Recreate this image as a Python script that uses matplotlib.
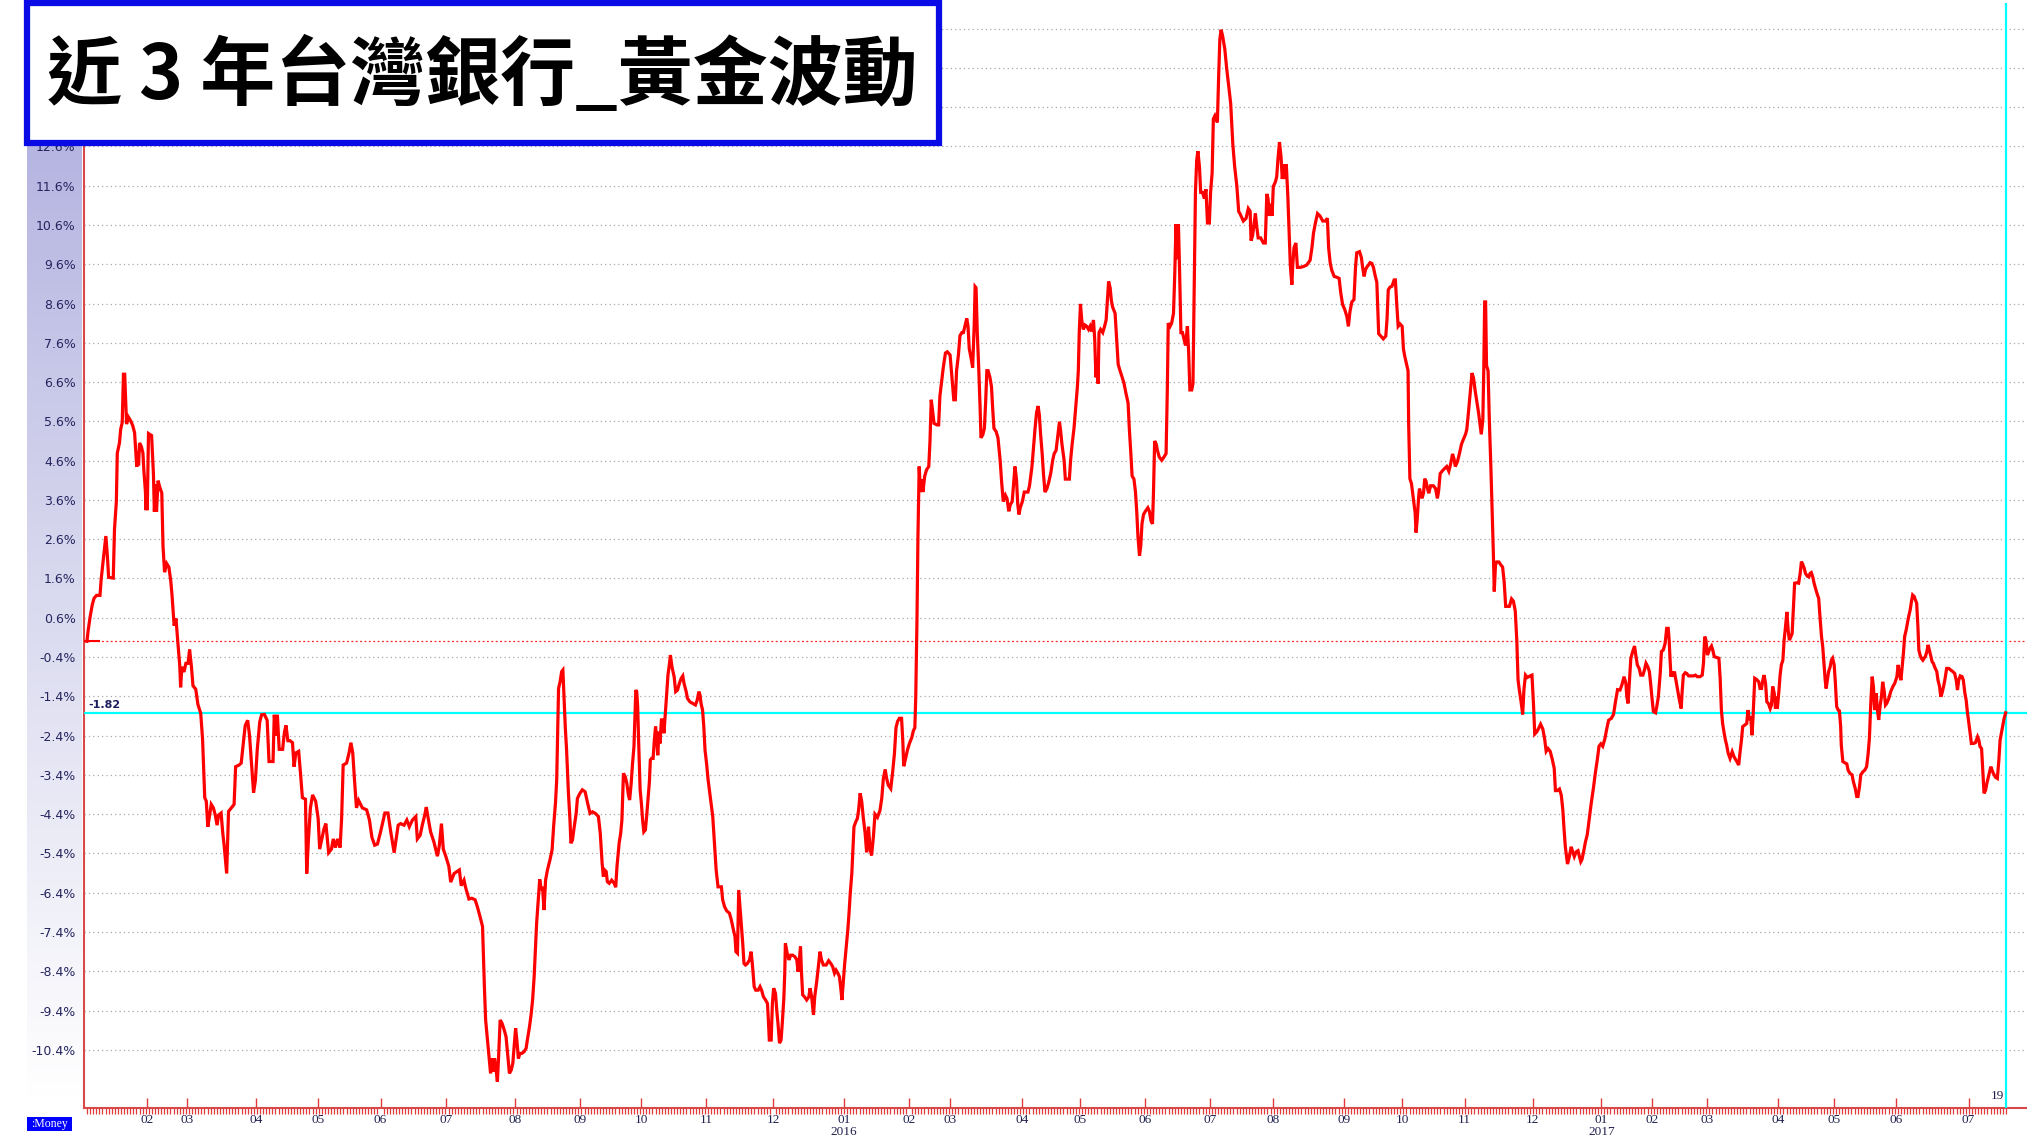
import matplotlib
matplotlib.use('Agg')
import matplotlib.pyplot as plt
import numpy as np
from matplotlib.patches import Rectangle
from matplotlib.colors import LinearSegmentedColormap

plt.rcParams['font.family'] = ['DejaVu Sans']

# ---- data: x = trading-session index from the first quote, y = change in % ----
a_day = [0.0, 0.3, 1.0, 1.7, 2.3, 3.1, 4.2, 4.6, 5.3, 5.7,
         6.1, 6.6, 7.0, 8.5, 8.9, 9.5, 9.8, 10.5, 10.9, 11.4,
         11.8, 12.2, 12.5, 12.8, 13.4, 14.1, 14.8, 15.4, 15.8, 16.1,
         16.4, 16.7, 17.0, 17.6, 18.1, 18.4, 18.9, 19.1, 19.3, 19.5,
         19.9, 20.9, 21.5, 21.8, 22.2, 22.5, 23.0, 23.6, 24.2, 24.6,
         25.1, 25.8, 26.5, 27.1, 27.5, 28.2, 28.8, 29.4, 30.0, 30.3,
         30.7, 31.4, 32.0, 32.7, 33.2, 33.8, 34.3, 35.2, 35.9, 36.8,
         37.4, 38.1, 38.6, 39.1, 39.7, 40.2, 40.9, 41.5, 42.1, 42.6,
         43.4, 43.9, 44.4, 45.2, 45.8, 46.7, 47.6, 48.1, 49.2, 49.9,
         50.6, 51.2, 52.0, 52.6, 53.3, 53.9, 54.5, 55.1, 55.9, 56.5,
         57.4, 58.3, 58.9, 60.2, 60.6, 61.2, 61.6, 62.2, 63.3, 63.9,
         64.4, 65.0, 65.7, 66.5, 67.0, 67.6, 68.5, 69.1, 69.7, 70.7,
         71.1, 71.7, 72.3, 73.0, 74.0, 74.8, 75.3, 76.1, 76.7, 77.3,
         78.2, 79.1, 79.7, 80.4, 81.1, 81.9, 82.4, 82.9, 84.0, 84.8,
         85.4, 86.0, 86.5, 87.2, 87.9, 89.1, 90.5, 91.4, 92.2, 93.1,
         94.0, 95.0, 96.4, 97.4, 98.3, 99.4, 100.7, 101.5, 102.6, 103.5,
         104.3, 105.3, 106.4, 106.9, 107.8, 108.5, 109.3, 109.8, 110.4, 111.2,
         112.3, 113.4, 114.0, 114.7, 115.3, 116.1, 117.1, 117.7, 118.8, 120.5,
         121.1, 122.0, 122.5, 123.6]
a_pct = [0.00, 0.23, 0.62, 0.93, 1.10, 1.17, 1.17, 1.59, 2.11, 2.42,
         2.68, 2.16, 1.63, 1.61, 2.86, 3.56, 4.79, 5.05, 5.40, 5.57,
         6.80, 6.80, 6.19, 5.53, 5.71, 5.62, 5.49, 5.31, 4.83, 4.44,
         4.83, 4.48, 5.05, 4.96, 4.79, 4.35, 3.82, 3.34, 3.91, 3.34,
         5.29, 5.24, 4.26, 3.30, 4.00, 3.30, 4.09, 3.91, 3.78, 2.42,
         1.76, 1.98, 1.89, 1.54, 1.19, 0.40, 0.58, -0.03, -0.60, -1.17,
         -0.65, -0.78, -0.56, -0.56, -0.21, -0.65, -1.13, -1.22, -1.61, -1.83,
         -2.49, -3.98, -4.07, -4.72, -4.42, -4.15, -4.24, -4.42, -4.68, -4.42,
         -4.37, -4.85, -5.21, -5.91, -4.33, -4.24, -4.15, -3.19, -3.15, -3.10,
         -2.58, -2.14, -2.01, -2.40, -3.19, -3.85, -3.54, -2.75, -2.05, -1.87,
         -1.86, -2.01, -3.06, -3.06, -1.87, -2.40, -1.87, -2.75, -2.75, -2.31,
         -2.14, -2.53, -2.53, -2.58, -3.19, -2.84, -2.80, -3.37, -3.98, -4.02,
         -5.91, -4.99, -4.24, -3.91, -4.07, -4.51, -5.29, -4.99, -4.77, -4.64,
         -5.38, -5.29, -5.03, -5.25, -5.03, -5.25, -4.50, -3.15, -3.10, -2.84,
         -2.58, -2.84, -3.45, -4.24, -4.05, -4.24, -4.29, -4.55, -4.99, -5.19,
         -5.16, -4.85, -4.37, -4.37, -4.85, -5.38, -4.68, -4.64, -4.68, -4.55,
         -4.72, -4.55, -4.46, -5.03, -4.94, -4.68, -4.42, -4.22, -4.50, -4.85,
         -5.12, -5.47, -5.21, -4.64, -5.29, -5.47, -5.73, -6.13, -5.91, -5.82,
         -6.22, -6.08, -6.26, -6.56]

b_day = [124.5, 125.6, 126.3, 127.2, 128.0, 128.3, 128.6, 129.0, 129.6, 130.2,
         130.6, 131.2, 131.6, 131.9, 132.4, 132.8, 133.2, 133.7, 134.3, 135.0,
         135.6, 136.1, 136.7, 137.3, 137.8, 138.3, 138.7, 139.1, 139.6, 140.1,
         140.7, 141.4, 142.1, 142.5, 143.2, 143.7, 144.2, 144.7, 145.1, 145.5,
         146.1, 146.5, 147.0, 147.4, 147.9, 148.4, 149.0, 149.8, 150.5, 151.0,
         151.6, 152.0, 152.3, 152.6, 153.1, 153.6, 154.0, 154.4, 154.8, 155.2,
         155.8, 156.3, 156.6, 157.1, 157.6, 158.3, 158.7, 159.5, 160.3, 161.2,
         162.0, 162.8, 163.6, 164.5, 165.5, 166.1, 166.7, 167.1, 167.5, 168.0,
         168.4, 169.0, 169.8, 170.6, 171.1, 171.5, 172.2, 172.7, 173.1, 173.6,
         174.2, 174.7, 175.2, 175.6, 176.1, 176.5, 177.0, 177.2, 177.6, 177.9,
         178.2, 178.5, 179.0, 179.4, 179.8, 180.2, 180.7, 181.1, 181.6, 182.0,
         182.3, 182.7, 183.2, 183.6, 184.0, 184.4, 184.7, 185.1, 185.4, 185.9,
         186.3, 186.7, 187.2, 187.6, 188.0, 188.5, 188.8, 189.3, 190.0, 190.5,
         191.1, 191.7, 192.3, 192.8, 193.2, 193.9, 194.3, 195.1, 196.0, 196.9,
         197.5, 198.0, 198.4, 198.7, 199.2, 199.6, 200.0, 200.5, 201.0, 201.4,
         201.8, 202.5, 203.0, 203.6, 204.2, 205.3, 205.7, 206.3, 207.0, 207.9,
         208.5, 209.2, 209.7, 210.0, 210.5, 210.9, 211.3, 211.8, 212.2, 212.6,
         213.1, 213.7, 214.4, 214.9, 215.3, 215.9, 216.4, 217.2, 217.8, 218.3,
         218.9, 219.6, 220.2, 220.5, 220.8, 221.4, 221.8, 222.2, 222.8, 223.2,
         223.6, 224.1, 224.6, 225.0, 225.5, 225.8, 226.0, 226.7, 227.2, 227.7,
         228.4, 229.1, 229.7, 230.1, 230.5, 230.9, 231.2, 231.6, 232.2, 232.9,
         233.6, 234.0, 234.5, 235.1, 235.5, 236.2, 236.8, 237.2, 237.7, 238.3,
         239.2, 240.0, 240.7, 241.3, 241.9, 242.4, 243.0, 243.5, 244.0, 244.3,
         244.8, 245.2, 245.6, 246.2, 246.6, 247.0, 247.5, 247.8, 248.2, 248.8,
         249.3, 249.7, 250.2]
b_pct = [-6.54, -6.58, -6.75, -7.01, -7.26, -8.03, -8.79, -9.64, -10.15, -10.66,
         -11.00, -10.62, -10.95, -10.62, -10.91, -11.21, -10.57, -9.64, -9.72, -9.89,
         -10.06, -10.49, -11.00, -10.91, -10.74, -10.23, -9.85, -10.15, -10.62, -10.49,
         -10.49, -10.45, -10.36, -10.15, -9.81, -9.51, -9.13, -8.54, -7.86, -7.18,
         -6.50, -6.06, -6.33, -6.25, -6.84, -6.08, -5.82, -5.57, -5.31, -4.72,
         -4.12, -3.53, -2.34, -1.20, -1.03, -0.77, -0.73, -1.49, -2.22, -2.77,
         -3.87, -4.55, -5.14, -5.06, -4.76, -4.38, -4.00, -3.87, -3.78, -3.83,
         -4.12, -4.38, -4.34, -4.38, -4.46, -4.89, -5.65, -5.99, -5.82, -5.86,
         -6.12, -6.16, -6.08, -6.16, -6.26, -5.74, -5.14, -4.89, -4.55, -3.36,
         -3.45, -3.62, -3.91, -4.04, -3.62, -3.15, -2.68, -2.17, -1.24, -1.28,
         -1.66, -2.51, -3.78, -4.12, -4.55, -4.85, -4.80, -4.46, -3.95, -3.57,
         -3.02, -2.98, -2.98, -2.51, -2.17, -2.51, -2.90, -2.30, -2.60, -2.00,
         -2.00, -2.34, -1.79, -1.33, -0.86, -0.56, -0.35, -0.65, -0.90, -1.28,
         -1.24, -1.07, -0.94, -0.88, -1.07, -1.28, -1.45, -1.54, -1.58, -1.62,
         -1.49, -1.28, -1.37, -1.58, -1.75, -2.17, -2.77, -3.11, -3.53, -3.78,
         -4.04, -4.46, -5.06, -5.82, -6.25, -6.25, -6.58, -6.75, -6.86, -6.92,
         -7.09, -7.35, -7.52, -7.90, -7.94, -6.33, -6.75, -7.26, -7.69, -8.20,
         -8.24, -8.20, -8.11, -7.90, -8.20, -8.79, -8.88, -8.88, -8.79, -8.88,
         -9.05, -9.13, -9.22, -9.64, -10.15, -10.15, -9.22, -8.83, -8.96, -9.38,
         -9.72, -10.23, -10.15, -9.72, -9.09, -8.45, -7.69, -7.99, -8.11, -7.99,
         -7.99, -8.03, -8.11, -8.41, -8.11, -7.77, -8.41, -9.00, -9.05, -9.13,
         -9.05, -8.83, -9.05, -9.51, -9.05, -8.62, -8.20, -7.90, -8.11, -8.24,
         -8.24, -8.13, -8.20, -8.28, -8.45, -8.37, -8.45, -8.54, -8.88, -9.13,
         -8.62, -8.20, -7.86, -7.35, -6.92, -6.41, -5.91, -5.40, -4.72, -4.59,
         -4.51, -4.29, -3.87]

c_day = [250.7, 251.2, 251.8, 252.3, 252.9, 253.4, 253.9, 254.5, 255.0, 255.8,
         256.6, 257.2, 257.7, 258.3, 258.8, 259.3, 260.1, 260.7, 261.3, 261.8,
         262.3, 262.9, 263.6, 264.0, 264.3, 264.8, 265.5, 266.1, 266.9, 267.4,
         267.9, 268.2, 268.6, 268.9, 269.3, 269.7, 270.1, 270.5, 271.1, 271.7,
         272.4, 272.8, 273.2, 273.7, 274.1, 275.0, 275.6, 276.0, 276.6, 277.1,
         277.8, 278.4, 279.3, 279.9, 280.5, 281.0, 281.4, 282.0, 282.5, 283.1,
         283.6, 284.1, 284.7, 285.1, 285.5, 286.1, 286.6, 287.1, 287.4, 287.7,
         288.1, 288.6, 289.0, 289.3, 289.9, 290.4, 290.8, 291.2, 291.6, 292.2,
         292.7, 293.1, 293.5, 294.2, 294.8, 295.5, 296.0, 296.5, 297.2, 297.7,
         298.3, 298.8, 299.4, 299.9, 300.3, 300.8, 301.2, 301.6, 302.0, 302.7,
         303.3, 303.9, 304.5, 305.0, 305.4, 305.8, 306.3, 306.8, 307.3, 307.8,
         308.2, 308.6, 309.1, 309.5, 310.0, 310.6, 311.2, 311.9, 312.5, 313.0,
         313.6, 314.2, 314.7, 315.1, 315.5, 316.2, 316.6, 317.3, 317.9, 318.3,
         318.8, 319.4, 320.0, 320.5, 320.8, 321.1, 321.5, 321.9, 322.4, 323.0,
         323.5, 324.1, 324.6, 325.1, 325.7, 326.1, 326.5, 326.9, 327.2, 327.5,
         328.0, 328.7, 329.3, 329.8, 330.2, 330.6, 331.1, 331.5, 331.9, 332.7,
         333.2, 333.7, 334.3, 335.0, 335.6, 336.2, 336.9, 337.3, 337.8, 338.2,
         338.8, 339.3, 339.7, 340.1, 340.6, 341.0, 341.4, 341.9, 342.5, 343.3,
         343.8, 344.3, 344.8, 345.1, 345.5, 346.0, 346.4, 347.0, 347.8, 348.5,
         349.2, 349.6, 349.9, 350.5, 351.0, 351.6, 352.0, 352.4, 352.9, 353.2,
         353.6, 354.0, 354.5, 355.0, 355.5, 356.1, 356.5, 356.9, 357.5, 357.9,
         358.4, 358.7, 359.1, 359.5, 360.0, 360.4, 361.0, 361.6, 362.1, 362.6,
         363.2, 363.6, 364.1, 364.5, 365.0, 365.8, 366.2, 366.6, 367.0, 367.5,
         368.2, 368.8, 369.4, 370.1, 370.8, 371.4, 372.1, 372.7]
c_pct = [-4.07, -4.48, -4.88, -5.37, -4.72, -5.29, -5.45, -4.96, -4.40, -4.48,
         -4.31, -3.99, -3.50, -3.26, -3.50, -3.66, -3.75, -3.34, -2.85, -2.20,
         -2.04, -1.96, -1.96, -2.53, -3.18, -3.02, -2.77, -2.61, -2.45, -2.28,
         -2.20, -1.39, 0.63, 2.66, 4.45, 3.80, 4.12, 3.80, 4.21, 4.37,
         4.45, 5.10, 6.15, 5.83, 5.55, 5.51, 5.51, 6.24, 6.64, 6.97,
         7.34, 7.37, 7.29, 6.72, 6.15, 6.15, 6.89, 7.29, 7.78, 7.86,
         7.86, 8.02, 8.22, 8.02, 7.45, 7.21, 6.97, 8.02, 9.03, 9.00,
         7.86, 6.89, 5.99, 5.18, 5.26, 5.42, 6.07, 6.89, 6.89, 6.72,
         6.48, 5.91, 5.42, 5.34, 5.18, 4.61, 4.04, 3.56, 3.72, 3.64,
         3.31, 3.48, 3.56, 4.04, 4.45, 4.12, 3.48, 3.23, 3.40, 3.56,
         3.80, 3.80, 3.80, 3.96, 4.21, 4.45, 4.94, 5.42, 5.83, 5.99,
         5.75, 5.26, 4.78, 4.29, 3.80, 3.88, 4.04, 4.29, 4.61, 4.78,
         4.86, 5.26, 5.59, 5.34, 5.02, 4.61, 4.13, 4.13, 4.13, 4.61,
         5.02, 5.42, 5.99, 6.48, 6.89, 7.86, 8.59, 8.18, 7.94, 8.05,
         8.02, 7.94, 8.02, 7.89, 8.18, 7.70, 6.72, 7.21, 6.56, 7.86,
         7.94, 7.86, 8.02, 8.18, 8.67, 9.16, 9.00, 8.67, 8.51, 8.35,
         7.70, 7.05, 6.89, 6.72, 6.56, 6.32, 6.07, 5.42, 4.78, 4.21,
         4.13, 3.80, 3.31, 2.66, 2.18, 2.42, 2.99, 3.23, 3.31, 3.40,
         3.31, 3.07, 2.99, 3.72, 5.10, 5.02, 4.86, 4.69, 4.61, 4.69,
         4.78, 6.40, 8.10, 8.02, 8.10, 8.35, 9.32, 10.62, 9.73, 10.62,
         9.32, 7.86, 7.86, 7.70, 7.53, 8.02, 7.37, 6.40, 6.40, 6.56,
         9.64, 11.43, 12.24, 12.48, 12.08, 11.43, 11.43, 11.27, 11.51, 10.65,
         10.65, 11.43, 11.92, 13.30, 13.38, 13.21, 14.35, 15.33, 15.57, 15.41,
         15.08, 14.59, 14.19, 13.70, 12.65, 12.08, 11.59, 10.94]

d_day = [373.1, 374.2, 375.1, 375.8, 376.4, 376.7, 377.2, 377.7, 378.1, 378.5,
         379.0, 379.8, 380.7, 381.3, 381.8, 382.2, 382.6, 383.1, 383.5, 383.9,
         384.6, 385.0, 385.4, 385.9, 386.4, 386.8, 387.3, 387.7, 388.1, 388.6,
         389.0, 389.4, 389.9, 390.2, 390.6, 391.2, 391.7, 392.6, 393.6, 394.7,
         395.8, 396.4, 396.9, 397.5, 398.2, 399.0, 399.9, 400.8, 401.4, 401.8,
         402.3, 402.8, 403.6, 404.4, 405.2, 405.7, 406.3, 407.0, 407.7, 408.2,
         408.7, 409.3, 410.0, 410.5, 410.9, 411.8, 412.4, 412.8, 413.3, 413.7,
         414.1, 414.7, 415.2, 415.8, 416.3, 416.8, 417.4, 417.7, 418.0, 418.7,
         419.5, 420.3, 420.7, 421.1, 421.7, 422.3, 423.0, 423.4, 423.8, 424.3,
         424.9, 425.6, 426.0, 426.4, 427.1, 427.5, 427.7, 428.1, 428.6, 429.2,
         429.8, 430.1, 430.5, 430.9, 431.2, 431.6, 432.0, 432.5, 432.9, 433.3,
         433.8, 434.2, 434.8, 435.7, 436.4, 437.0, 437.4, 437.9, 438.5, 439.2,
         440.0, 440.7, 441.3, 441.9, 442.4, 442.8, 443.5, 444.1, 444.8, 445.4,
         446.1, 446.5, 446.9, 447.4, 447.8, 448.2, 448.7, 449.2, 449.7, 450.3,
         450.8, 451.2, 451.7, 452.0, 452.3, 452.6, 452.9, 453.4, 453.8, 454.3,
         454.7, 455.1, 455.4, 455.8, 456.2, 456.9, 457.5, 458.1, 458.6, 459.1,
         459.7, 460.3, 461.0, 461.6, 462.2, 462.7, 463.1, 463.5, 464.1, 464.6,
         465.0, 465.5, 466.1, 467.0, 467.6, 468.1, 468.5, 469.2, 469.8, 470.4,
         471.1, 471.7, 472.2, 472.8, 473.5, 474.1, 474.8, 475.2, 475.8, 476.5,
         477.1, 477.6, 478.0, 478.4, 479.1, 479.7, 480.3, 480.8, 481.3, 481.9,
         482.5, 482.9, 483.4, 483.8, 484.3, 484.9, 485.5, 486.2, 486.8, 487.5,
         488.1, 488.8, 489.3, 489.9, 490.5, 491.2, 491.8, 492.4, 493.3, 494.0,
         494.6, 495.3]
d_pct = [10.89, 10.70, 10.77, 11.02, 10.95, 10.20, 10.33, 10.64, 10.89, 10.58,
         10.27, 10.27, 10.14, 10.14, 11.39, 11.27, 10.83, 11.14, 10.83, 11.58,
         11.70, 11.83, 12.27, 12.71, 12.33, 11.77, 12.14, 11.77, 12.14, 11.33,
         10.45, 9.58, 9.08, 9.58, 10.02, 10.14, 9.52, 9.52, 9.54, 9.58,
         9.70, 10.02, 10.39, 10.64, 10.89, 10.83, 10.70, 10.70, 10.77, 10.02,
         9.64, 9.45, 9.29, 9.27, 9.24, 8.89, 8.58, 8.45, 8.27, 8.02,
         8.39, 8.64, 8.70, 9.52, 9.89, 9.92, 9.77, 9.52, 9.29, 9.45,
         9.52, 9.58, 9.64, 9.62, 9.52, 9.33, 9.14, 8.52, 7.83, 7.77,
         7.70, 7.77, 8.20, 8.95, 9.02, 9.04, 9.20, 9.20, 8.64, 8.02,
         8.08, 8.02, 7.45, 7.27, 7.02, 6.89, 5.52, 4.14, 4.02, 3.64,
         3.27, 2.77, 3.14, 3.64, 3.89, 3.77, 3.64, 3.77, 4.14, 4.08,
         3.89, 3.77, 3.96, 3.96, 3.89, 3.64, 3.83, 4.27, 4.33, 4.39,
         4.45, 4.33, 4.52, 4.77, 4.64, 4.45, 4.58, 4.77, 5.02, 5.14,
         5.27, 5.39, 5.70, 6.14, 6.52, 6.83, 6.70, 6.39, 6.14, 5.83,
         5.52, 5.27, 5.64, 6.89, 8.64, 8.64, 7.02, 6.89, 5.64, 4.45,
         3.39, 2.27, 1.27, 1.95, 2.02, 2.02, 1.95, 1.89, 1.52, 0.89,
         0.89, 0.89, 1.08, 1.02, 0.77, 0.02, -0.98, -1.23, -1.55, -1.86,
         -1.23, -0.86, -0.92, -0.88, -0.86, -1.61, -2.36, -2.30, -2.21, -2.11,
         -2.23, -2.48, -2.80, -2.73, -2.80, -2.98, -3.23, -3.80, -3.80, -3.76,
         -3.92, -4.30, -4.80, -5.23, -5.67, -5.48, -5.23, -5.36, -5.48, -5.36,
         -5.33, -5.46, -5.61, -5.55, -5.36, -5.11, -4.92, -4.48, -4.11, -3.73,
         -3.36, -2.98, -2.67, -2.61, -2.67, -2.48, -2.23, -2.01, -1.96, -1.86,
         -1.55, -1.23]

e_day = [496.1, 496.7, 497.4, 498.0, 498.3, 498.7, 499.1, 499.6, 500.2, 500.8,
         501.2, 501.7, 502.3, 502.8, 503.5, 504.0, 504.5, 505.1, 505.6, 506.0,
         506.5, 506.9, 507.6, 508.0, 508.5, 509.1, 509.5, 510.1, 510.7, 511.2,
         511.7, 512.0, 512.3, 512.6, 512.9, 513.4, 513.7, 514.2, 514.8, 515.3,
         515.9, 516.2, 516.6, 517.2, 517.7, 518.3, 519.0, 519.9, 520.5, 521.1,
         522.0, 522.7, 523.1, 523.5, 523.9, 524.4, 524.8, 525.2, 525.7, 526.1,
         526.6, 527.4, 528.1, 528.5, 528.9, 529.3, 529.8, 530.2, 530.6, 531.1,
         531.7, 532.4, 533.0, 533.9, 534.5, 534.9, 535.4, 535.8, 536.5, 537.1,
         537.5, 538.0, 538.4, 538.8, 539.1, 539.3, 539.7, 540.3, 541.0, 541.4,
         541.9, 542.3, 542.7, 543.2, 543.6, 544.1, 544.7, 545.1, 545.5, 546.0,
         546.4, 546.6, 547.0, 547.5, 547.9, 548.3, 548.8, 549.2, 549.6, 550.1,
         550.5, 550.9, 551.4, 551.8, 552.2, 552.6, 553.3, 553.9, 554.4, 554.8,
         555.2, 555.7, 556.1, 556.7, 557.2, 557.6, 558.0, 558.5, 558.9, 559.5,
         560.0, 560.4, 560.8, 561.3, 561.7, 562.1, 562.5, 562.8, 563.2, 563.6,
         564.1, 564.5, 564.9, 565.4, 565.8, 566.2, 566.7, 567.1, 567.5, 567.7,
         568.2, 568.8, 569.5, 569.9, 570.5, 571.2, 571.6, 572.2, 572.7, 573.1,
         573.6, 574.0, 574.7, 575.3, 575.9, 576.4, 576.8, 577.2, 577.7, 578.1,
         578.5, 579.0, 579.4, 579.8, 580.3, 580.7, 581.1, 581.6, 582.0, 582.4,
         583.1, 583.7, 584.4, 585.0, 585.7, 586.1, 586.5, 587.0, 587.4, 587.8,
         588.2, 588.7, 589.1, 589.5, 590.0, 590.4, 590.8, 591.3, 591.7, 592.1,
         592.5, 592.8, 593.2, 593.6, 594.1, 594.5, 594.9, 595.4, 595.8, 596.2,
         596.7, 597.1, 597.5, 597.9, 598.6, 599.0, 599.5, 599.9, 600.3, 600.8,
         601.2, 601.8, 602.5, 603.1, 603.8, 604.4, 604.9, 605.3, 605.7, 606.2,
         606.8, 607.2, 607.7, 608.1, 608.5, 609.0, 609.4, 609.8, 610.5, 611.1,
         611.8, 612.2, 612.6, 613.1, 613.5, 613.9, 614.4, 614.8, 615.2, 615.6,
         616.1, 616.5, 616.9, 617.6, 618.2, 618.7, 619.1, 619.5, 620.0, 620.4,
         620.9]
e_pct = [-1.24, -1.11, -0.90, -1.07, -1.41, -1.58, -1.07, -0.43, -0.26, -0.12,
         -0.35, -0.60, -0.69, -0.86, -0.86, -0.73, -0.56, -0.65, -0.77, -1.07,
         -1.49, -1.79, -1.82, -1.66, -1.41, -0.82, -0.26, -0.22, -0.05, 0.33,
         0.33, 0.03, -0.48, -0.90, -0.77, -0.90, -0.77, -0.99, -1.24, -1.49,
         -1.71, -1.28, -0.86, -0.80, -0.82, -0.88, -0.88, -0.88, -0.86, -0.90,
         -0.90, -0.86, -0.56, 0.12, 0.03, -0.35, -0.26, -0.18, -0.12, -0.22,
         -0.39, -0.41, -0.43, -0.94, -1.75, -2.09, -2.34, -2.51, -2.64, -2.85,
         -2.98, -2.81, -2.94, -3.06, -3.15, -2.85, -2.51, -2.17, -2.13, -2.09,
         -1.75, -2.00, -1.92, -2.39, -2.00, -1.66, -0.94, -0.97, -1.03, -1.20,
         -1.20, -0.99, -0.86, -1.07, -1.54, -1.58, -1.71, -1.62, -1.15, -1.32,
         -1.71, -1.41, -1.71, -1.28, -0.86, -0.60, -0.48, 0.03, 0.33, 0.75,
         0.29, 0.03, 0.12, 0.20, 0.84, 1.48, 1.49, 1.48, 1.73, 2.03,
         1.97, 1.86, 1.73, 1.66, 1.64, 1.73, 1.75, 1.63, 1.48, 1.31,
         1.18, 1.09, 0.63, 0.12, -0.14, -0.56, -0.99, -1.20, -0.99, -0.77,
         -0.65, -0.48, -0.43, -0.60, -1.07, -1.66, -1.75, -1.77, -2.17, -2.64,
         -3.06, -3.09, -3.12, -3.28, -3.36, -3.40, -3.57, -3.74, -3.95, -3.95,
         -3.70, -3.40, -3.32, -3.28, -3.19, -2.85, -2.47, -1.66, -0.90, -1.15,
         -1.75, -1.32, -1.75, -2.00, -1.62, -1.41, -1.03, -1.28, -1.62, -1.58,
         -1.45, -1.28, -1.15, -1.07, -0.90, -0.60, -0.82, -0.99, -0.65, -0.31,
         0.12, 0.29, 0.46, 0.63, 0.80, 1.01, 1.18, 1.14, 1.05, 0.97,
         0.37, -0.22, -0.35, -0.43, -0.48, -0.43, -0.39, -0.26, -0.09, -0.22,
         -0.39, -0.52, -0.56, -0.65, -0.77, -0.99, -1.15, -1.41, -1.32, -1.15,
         -0.99, -0.69, -0.69, -0.73, -0.77, -0.82, -0.99, -1.24, -0.99, -0.88,
         -0.90, -0.99, -1.32, -1.49, -1.79, -2.09, -2.34, -2.60, -2.60, -2.58,
         -2.43, -2.51, -2.68, -2.73, -3.28, -3.87, -3.79, -3.62, -3.49, -3.36,
         -3.19, -3.28, -3.36, -3.46, -3.49, -3.02, -2.51, -2.34, -2.13, -1.96,
         -1.82]

# first session of each month (Feb 2015 .. Jul 2017) and its label
month_pos = [19.3, 32.3, 54.8, 74.8, 95.0, 116.1, 138.4, 159.4, 179.3, 200.3, 222.0,
             244.9, 266.0, 279.2, 302.5, 321.3, 342.3, 363.3, 383.7, 406.8, 425.6, 445.8, 467.8,
             490.1, 506.4, 524.2, 547.3, 565.3, 585.4, 608.9]
month_lbl = ['02', '03', '04', '05', '06', '07', '08', '09', '10', '11', '12',
             '01\n2016', '02', '03', '04', '05', '06', '07', '08', '09', '10', '11', '12',
             '01\n2017', '02', '03', '04', '05', '06', '07']
y_ticks = [-10.4, -9.4, -8.4, -7.4, -6.4, -5.4, -4.4, -3.4, -2.4, -1.4, -0.4,
           0.6, 1.6, 2.6, 3.6, 4.6, 5.6, 6.6, 7.6, 8.6, 9.6, 10.6, 11.6, 12.6,
           13.6, 14.6, 15.6]
last_value = -1.82
last_session = 620.9
last_day_label = '19'
title = '近 3 年台灣銀行_黃金波動'

session = a_day + b_day + c_day + d_day + e_day
change = a_pct + b_pct + c_pct + d_pct + e_pct

# ---- figure ----
W, H = 2027, 1139
fig = plt.figure(figsize=(W / 100, H / 100), dpi=100)


def fx(px):
    return px / W


def fy(py):
    return 1 - py / H


# shaded strip behind the y labels
pan = fig.add_axes([fx(27), fy(1100), (82 - 27) / W, 1100 / H], zorder=0)
cmap = LinearSegmentedColormap.from_list('strip', ['#a9a9dd', '#d6d6ee', '#ffffff'])
pan.imshow(np.linspace(0, 1, 256).reshape(-1, 1), aspect='auto', cmap=cmap,
           extent=[0, 1, 0, 1])
pan.axis('off')

ax = fig.add_axes([fx(84), fy(1108), (2027 - 84) / W, (1108 - 3) / H], zorder=1)
ax.set_facecolor('white')

ax.plot(session, change, color='#ff0000', lw=2.3, zorder=4, solid_joinstyle='miter')

ax.axhline(0, color='#ff2020', lw=0.9, ls=(0, (1.5, 2)), zorder=2)
ax.plot([-0.97, 3.9], [0, 0], color='#ff0000', lw=1.5, zorder=3)
ax.axhline(last_value, color='#00ffff', lw=1.6, zorder=3)
ax.axvline(last_session, color='#00ffff', lw=1.6, zorder=3)

ax.set_xlim(-0.97, 627.8)
ax.set_ylim(-11.88, 16.25)

# labels above 12.6% sit under the title box in the original, so they stay blank
ax.set_yticks(y_ticks)
ax.set_yticklabels([f'{v:.1f}%' if v < 13 else '' for v in y_ticks])
ax.grid(axis='y', color='#a8a8a8', ls=(0, (1, 2.5)), lw=0.9, zorder=1)
ax.tick_params(axis='y', length=0, pad=6, labelsize=9, labelcolor='#24245e')

ax.set_xticks(month_pos)
ax.set_xticklabels(month_lbl, family='Liberation Serif', linespacing=1.05)
ax.set_xticks(np.arange(0, 622), minor=True)
ax.tick_params(axis='x', which='major', direction='in', length=7, width=1,
               color='#e03a3a', pad=4, labelsize=9.5, labelcolor='#20204e')
ax.tick_params(axis='x', which='minor', direction='out', length=4, width=0.9,
               color='#e03a3a')

for s in ['top', 'right']:
    ax.spines[s].set_visible(False)
for s in ['left', 'bottom']:
    ax.spines[s].set_color('#d84848')
    ax.spines[s].set_linewidth(1.5)

ax.text(0.4, last_value + 0.08, f'{last_value:.2f}', fontsize=8, fontweight='bold',
        color='#1c1c5c', ha='left', va='bottom', zorder=5)
ax.text(last_session - 0.6, -11.72, last_day_label, fontsize=9.5, family='Liberation Serif',
        color='#20204e', ha='right', va='bottom', zorder=5)

# source tag bottom-left
fig.patches.append(Rectangle((fx(27), fy(1131)), 45 / W, 14 / H, transform=fig.transFigure,
                             facecolor='#0000ff', edgecolor='none', zorder=5))
fig.text(fx(49.5), fy(1124), ':Money', color='white', fontsize=8.5,
         family='Liberation Serif', ha='center', va='center', zorder=6)

# title box
fig.patches.append(Rectangle((fx(27), fy(143)), (939 - 27) / W, 140 / H,
                             transform=fig.transFigure, facecolor='white',
                             edgecolor='#0a0ae6', linewidth=4.5, zorder=7))
fig.text(fx(482), fy(76), title, fontsize=54, fontweight='heavy',
         family=['Noto Sans CJK TC', 'DejaVu Sans'], color='black',
         ha='center', va='center', zorder=8)

fig.savefig('out.png', dpi=100)
